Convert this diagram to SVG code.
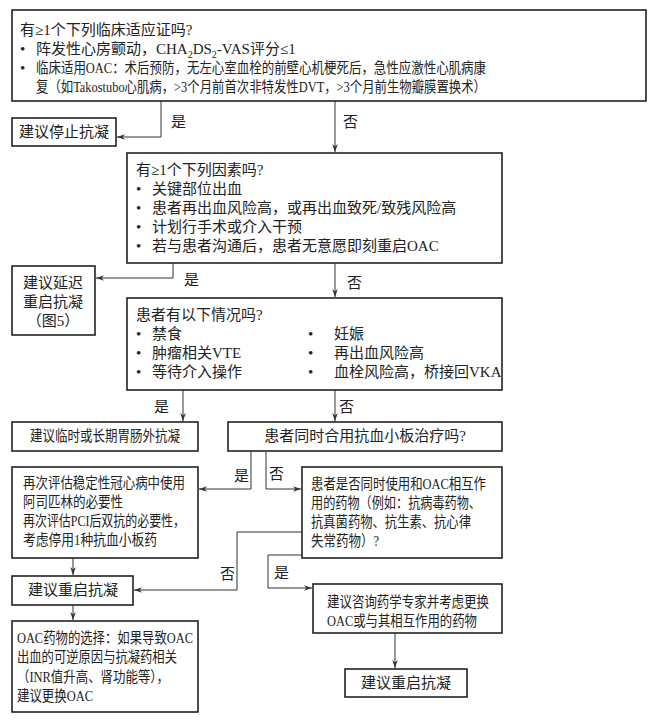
<svg xmlns="http://www.w3.org/2000/svg" width="665" height="720" viewBox="0 0 665 720">
<defs>
<style>
text{font-family:"Liberation Serif","Noto Sans CJK SC",serif;font-size:15px;fill:#222}
.b{fill:#fff;stroke:#222;stroke-width:1.6}
.c{fill:none;stroke:#333;stroke-width:1}
.m{text-anchor:middle}
.s{font-size:10px}
</style>
<marker id="a" viewBox="0 0 10 10" refX="10" refY="5" markerWidth="8" markerHeight="8" orient="auto"><path d="M0,1.5 L10,5 L0,8.5 L3,5Z" fill="#333"/></marker>
</defs>
<rect width="665" height="720" fill="#fff"/>
<g id="n1"><rect class="b" x="12" y="10" width="634" height="91"/>
<text x="20" y="35">有≥1个下列临床适应证吗?</text>
<text x="20" y="54">•</text><text x="36" y="54">阵发性心房颤动，CHA<tspan class="s" dy="4">2</tspan><tspan dy="-4">DS</tspan><tspan class="s" dy="4">2</tspan><tspan dy="-4">-VAS评分≤1</tspan></text>
<text x="20" y="73">•</text><text x="36" y="73" textLength="450" lengthAdjust="spacingAndGlyphs">临床适用OAC：术后预防，无左心室血栓的前壁心机梗死后，急性应激性心肌病康</text>
<text x="36" y="92" textLength="450" lengthAdjust="spacingAndGlyphs">复（如Takostubo心肌病，&gt;3个月前首次非特发性DVT，&gt;3个月前生物瓣膜置换术）</text></g>
<g id="n2"><rect class="b" x="12" y="118" width="104" height="28"/><text class="m" x="64" y="137">建议停止抗凝</text></g>
<g id="n3"><rect class="b" x="127" y="153" width="375" height="110"/>
<text x="136" y="175">有≥1个下列因素吗?</text>
<text x="136" y="194">•</text><text x="152" y="194">关键部位出血</text>
<text x="136" y="213">•</text><text x="152" y="213">患者再出血风险高，或再出血致死/致残风险高</text>
<text x="136" y="232">•</text><text x="152" y="232">计划行手术或介入干预</text>
<text x="136" y="251">•</text><text x="152" y="251">若与患者沟通后，患者无意愿即刻重启OAC</text></g>
<g id="n4"><rect class="b" x="12" y="266" width="83" height="69"/>
<text class="m" x="53" y="288">建议延迟</text><text class="m" x="53" y="307">重启抗凝</text><text class="m" x="53" y="326">（图5）</text></g>
<g id="n5"><rect class="b" x="127" y="298" width="375" height="92"/>
<text x="136" y="320">患者有以下情况吗?</text>
<text x="136" y="339">•</text><text x="152" y="339">禁食</text>
<text x="136" y="358">•</text><text x="152" y="358">肿瘤相关VTE</text>
<text x="136" y="377">•</text><text x="152" y="377">等待介入操作</text>
<text x="308" y="339">•</text><text x="334" y="339">妊娠</text>
<text x="308" y="358">•</text><text x="334" y="358">再出血风险高</text>
<text x="308" y="377">•</text><text x="334" y="377">血栓风险高，桥接回VKA</text></g>
<g id="n6"><rect class="b" x="12" y="422" width="186" height="29"/><text class="m" x="105" y="441" textLength="150" lengthAdjust="spacingAndGlyphs">建议临时或长期胃肠外抗凝</text></g>
<g id="n7"><rect class="b" x="228" y="422" width="274" height="29"/><text class="m" x="365" y="441">患者同时合用抗血小板治疗吗?</text></g>
<g id="n8"><rect class="b" x="12" y="467" width="186" height="91"/>
<text x="23" y="488" textLength="162" lengthAdjust="spacingAndGlyphs">再次评估稳定性冠心病中使用</text><text x="23" y="507" textLength="100" lengthAdjust="spacingAndGlyphs">阿司匹林的必要性</text>
<text x="23" y="526" textLength="162" lengthAdjust="spacingAndGlyphs">再次评估PCI后双抗的必要性，</text><text x="23" y="545" textLength="134" lengthAdjust="spacingAndGlyphs">考虑停用1种抗血小板药</text></g>
<g id="n9"><rect class="b" x="302" y="467" width="200" height="91"/>
<text x="311" y="489" textLength="175" lengthAdjust="spacingAndGlyphs">患者是否同时使用和OAC相互作</text><text x="311" y="508" textLength="170" lengthAdjust="spacingAndGlyphs">用的药物（例如：抗病毒药物、</text>
<text x="311" y="527" textLength="160" lengthAdjust="spacingAndGlyphs">抗真菌药物、抗生素、抗心律</text><text x="311" y="546" textLength="68" lengthAdjust="spacingAndGlyphs">失常药物）?</text></g>
<g id="n10"><rect class="b" x="12" y="576" width="121" height="29"/><text class="m" x="73" y="595">建议重启抗凝</text></g>
<g id="n11"><rect class="b" x="12" y="621" width="186" height="91"/>
<text x="17" y="643" textLength="176" lengthAdjust="spacingAndGlyphs">OAC药物的选择：如果导致OAC</text><text x="17" y="662" textLength="160" lengthAdjust="spacingAndGlyphs">出血的可逆原因与抗凝药相关</text>
<text x="17" y="682" textLength="152" lengthAdjust="spacingAndGlyphs">（INR值升高、肾功能等），</text><text x="17" y="701" textLength="76" lengthAdjust="spacingAndGlyphs">建议更换OAC</text></g>
<g id="n12"><rect class="b" x="313" y="584" width="189" height="49"/>
<text x="327" y="607" textLength="162" lengthAdjust="spacingAndGlyphs">建议咨询药学专家并考虑更换</text><text x="327" y="626" textLength="150" lengthAdjust="spacingAndGlyphs">OAC或与其相互作用的药物</text></g>
<g id="n13"><rect class="b" x="345" y="669" width="122" height="28"/><text class="m" x="406" y="688">建议重启抗凝</text></g>
<g id="connectors">
<path class="c" d="M161,101 V137 H117" marker-end="url(#a)"/>
<path class="c" d="M335,101 V152" marker-end="url(#a)"/>
<path class="c" d="M173,263 V278 H96" marker-end="url(#a)"/>
<path class="c" d="M335,263 V297" marker-end="url(#a)"/>
<path class="c" d="M183,390 V421" marker-end="url(#a)"/>
<path class="c" d="M335,390 V421" marker-end="url(#a)"/>
<path class="c" d="M251,451 V489 H199" marker-end="url(#a)"/>
<path class="c" d="M266,451 V489 H301" marker-end="url(#a)"/>
<path class="c" d="M302,532 H237 V590 H134" marker-end="url(#a)"/>
<path class="c" d="M302,555 H268 V588 H312" marker-end="url(#a)"/>
<path class="c" d="M73,558 V575" marker-end="url(#a)"/>
<path class="c" d="M73,605 V620" marker-end="url(#a)"/>
<path class="c" d="M395,633 V668" marker-end="url(#a)"/>
<text x="171" y="127">是</text><text x="343" y="127">否</text>
<text x="184" y="285">是</text><text x="347" y="288">否</text>
<text x="154" y="412">是</text><text x="339" y="412">否</text>
<text x="234" y="481">是</text><text x="269" y="479">否</text>
<text x="220" y="579">否</text><text x="274" y="578">是</text>
</g>
</svg>
